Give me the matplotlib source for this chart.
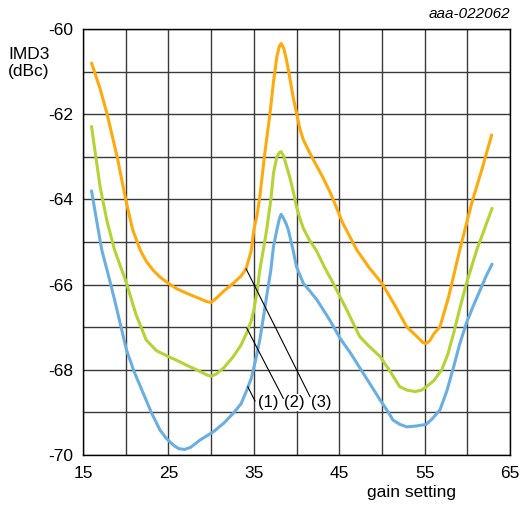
import matplotlib
matplotlib.use("Agg")
from matplotlib import pyplot as plt

plt.rcParams['font.family'] = ['Liberation Sans', 'DejaVu Sans']
plt.rcParams['axes.unicode_minus'] = False

# curve (3) - orange
x3 = [16.0, 17.0, 17.8, 19.0, 20.0, 20.8, 21.7, 22.4, 23.2, 24.0, 25.0, 26.0,
      27.1, 28.3, 29.5, 30.0, 30.6, 31.5, 32.6, 33.5, 34.1, 34.7, 35.0, 35.4,
      35.7, 36.3, 36.9, 37.3, 37.7, 38.0, 38.2, 38.5, 38.8, 39.05, 39.6, 40.0,
      40.4, 40.8, 41.4, 42.0, 43.0, 44.0, 45.4, 47.1, 48.5, 50.0, 51.5, 52.9,
      54.0, 54.8, 55.2, 55.6, 56.1, 56.8, 57.8, 59.1, 60.5, 61.7, 62.85]
y3 = [-60.8, -61.4, -61.98, -63.0, -64.0, -64.7, -65.19, -65.45, -65.66, -65.82,
      -65.97, -66.1, -66.2, -66.3, -66.4, -66.42, -66.32, -66.15, -65.97, -65.8,
      -65.63, -65.2, -64.72, -64.35, -63.94, -62.9, -61.98, -61.25, -60.65, -60.4,
      -60.34, -60.45, -60.7, -60.96, -61.59, -61.97, -62.35, -62.6, -62.85, -63.08,
      -63.45, -63.86, -64.55, -65.2, -65.6, -65.97, -66.48, -66.99, -67.2, -67.36,
      -67.38, -67.32, -67.15, -66.99, -66.3, -65.2, -64.1, -63.3, -62.49]

# curve (2) - green
x2 = [16.0, 16.5, 17.0, 17.8, 18.7, 20.1, 21.2, 22.4, 23.6, 25.0, 26.0, 27.1,
      28.3, 29.5, 30.0, 30.6, 31.5, 32.6, 33.5, 34.2, 34.7, 35.0, 35.4, 35.7,
      36.1, 36.5, 37.0, 37.3, 37.7, 38.0, 38.2, 38.5, 38.8, 39.2, 39.6, 40.0,
      40.4, 40.8, 41.5, 42.3, 43.3, 44.3, 45.9, 47.4, 48.5, 49.8, 51.0, 52.1,
      53.0, 53.9, 54.6, 55.2, 56.1, 57.0, 57.7, 58.4, 59.2, 59.9, 61.1, 62.0, 62.9]
y2 = [-62.29, -63.0, -63.7, -64.5, -65.19, -65.97, -66.7, -67.3, -67.55, -67.69,
      -67.78, -67.89, -68.0, -68.12, -68.15, -68.1, -67.95, -67.69, -67.42, -67.12,
      -66.85, -66.6, -66.15, -65.66, -65.2, -64.72, -64.0, -63.39, -63.0, -62.9,
      -62.88, -62.98, -63.2, -63.47, -63.8, -64.17, -64.45, -64.68, -64.95, -65.19,
      -65.6, -65.97, -66.6, -67.22, -67.45, -67.69, -68.05, -68.4, -68.48, -68.51,
      -68.48, -68.4, -68.25, -68.0, -67.65, -67.14, -66.5, -65.97, -65.19, -64.7,
      -64.21]

# curve (1) - blue
x1 = [16.0, 16.6, 17.2, 18.0, 18.7, 20.1, 21.0, 22.05, 23.0, 24.0, 24.8, 25.6,
      26.2, 26.9, 27.6, 28.7, 29.5, 30.3, 31.5, 32.6, 33.5, 34.2, 34.7, 35.0,
      35.4, 35.7, 36.1, 36.5, 37.0, 37.3, 37.7, 38.0, 38.2, 38.5, 38.8, 39.05,
      39.6, 40.0, 40.8, 41.6, 42.4, 43.8, 45.1, 46.3, 47.4, 48.6, 49.8, 50.6,
      51.3, 52.1, 52.9, 54.0, 55.2, 55.9, 56.8, 57.6, 58.4, 59.1, 59.9, 60.7,
      61.5, 62.2, 62.9]
y1 = [-63.8, -64.5, -65.19, -65.8, -66.36, -67.54, -68.05, -68.55, -69.0, -69.41,
      -69.62, -69.77, -69.85, -69.87, -69.82, -69.65, -69.55, -69.45, -69.25, -69.02,
      -68.8, -68.47, -68.2, -67.95, -67.6, -67.3, -66.8, -66.28, -65.65, -65.11,
      -64.72, -64.45, -64.35, -64.45, -64.58, -64.72, -65.19, -65.58, -65.97, -66.16,
      -66.36, -66.8, -67.26, -67.6, -67.95, -68.33, -68.71, -68.95, -69.18, -69.28,
      -69.34, -69.32, -69.28, -69.15, -68.94, -68.5, -67.93, -67.4, -66.9, -66.5,
      -66.13, -65.8, -65.52]

# leader lines: (point on curve, label position)
labels = ['(1)', '(2)', '(3)']
anchors = [(34.3, -68.4), (34.2, -67.03), (34.1, -65.63)]
label_pos = [(36.7, -68.76), (39.8, -68.76), (42.95, -68.76)]
line_ends = [(35.14, -68.73), (38.45, -68.67), (41.58, -68.63)]

fig = plt.figure(figsize=(5.2, 5.05), dpi=100)
ax = fig.add_axes([83/520, 50/505, 427/520, 426/505])

ax.set_xlim(15, 65)
ax.set_ylim(-70, -60)
ax.set_xticks(range(15, 66, 10))
ax.set_xticks(range(15, 66, 5), minor=True)
ax.set_yticks(range(-70, -59, 2))
ax.set_yticks(range(-70, -59, 1), minor=True)
ax.grid(True, which='both', color='#3a3a3a', lw=1.0)
ax.tick_params(which='both', length=0, labelsize=12.5)
ax.tick_params(axis='x', pad=8)
ax.tick_params(axis='y', pad=7)
for s in ax.spines.values():
    s.set_color('black')
    s.set_linewidth(1.0)

for xs, ys, c in [(x3, y3, '#FFAA0C'), (x2, y2, '#B4D334'), (x1, y1, '#6AAEE2')]:
    ax.plot(xs, ys, color=c, lw=2.2, zorder=3, solid_joinstyle='round',
            solid_capstyle='round')

for lab, a, p, e in zip(labels, anchors, label_pos, line_ends):
    ax.plot([a[0], e[0]], [a[1], e[1]], color='black', lw=0.8, zorder=4)
    ax.text(p[0], p[1], lab, ha='center', va='center', fontsize=12, zorder=5,
            bbox=dict(facecolor='white', edgecolor='none', pad=0.6))

fig.text(8/520, 1 - 63/505, 'IMD3\n(dBc)', ha='left', va='center', fontsize=12.5,
         linespacing=1.15)
fig.text(456/520, 1 - 492/505, 'gain setting', ha='right', va='center', fontsize=12.5)
fig.text(510/520, 1 - 14/505, 'aaa-022062', ha='right', va='center', fontsize=11,
         style='italic')

fig.savefig('out.png', dpi=100)
